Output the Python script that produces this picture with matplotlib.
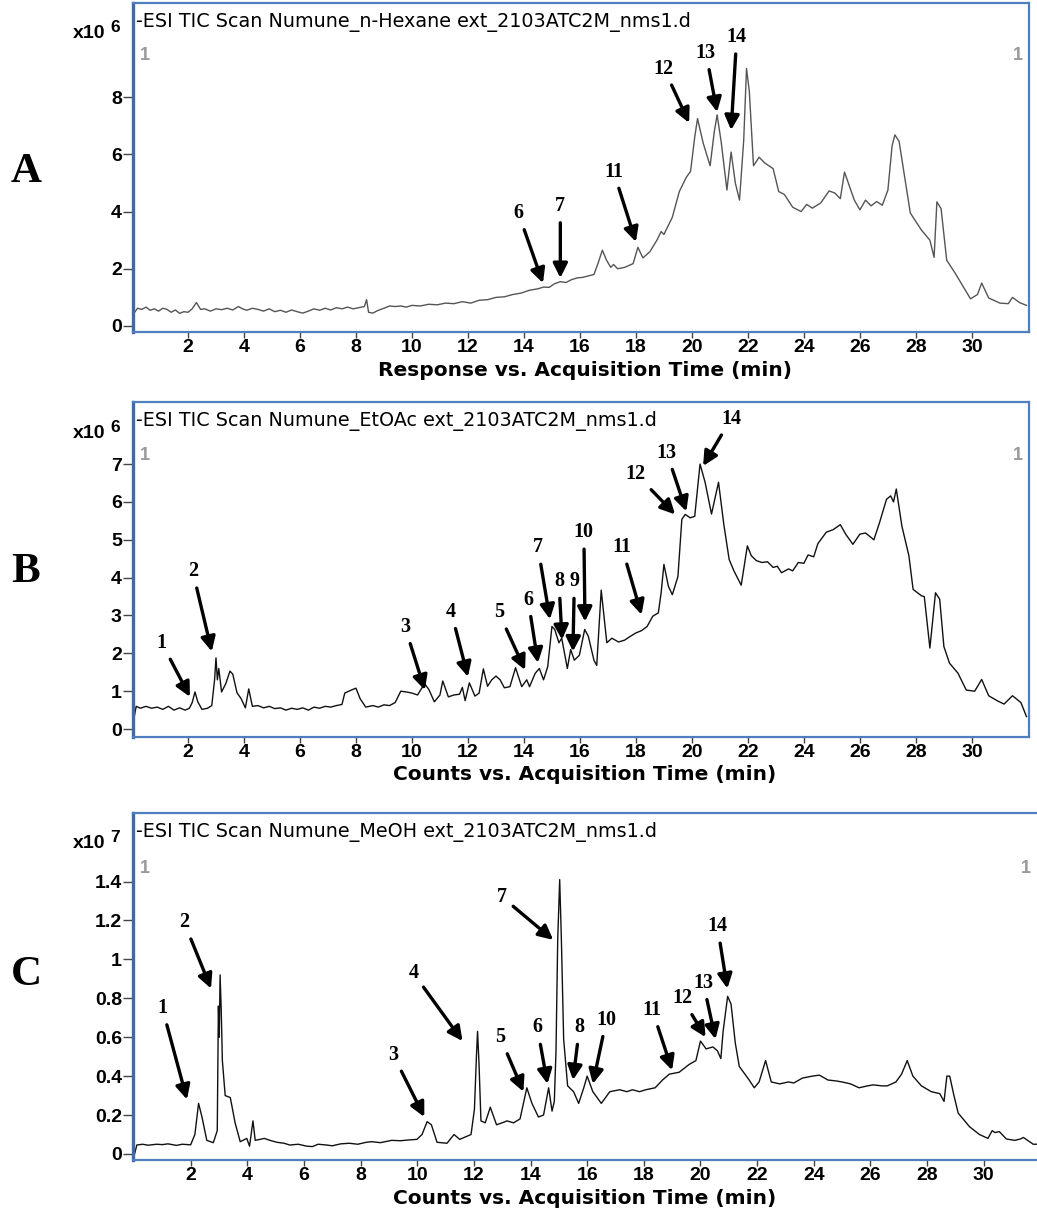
import matplotlib
matplotlib.use("Agg")
import matplotlib.pyplot as plt

# ---- data (time in min, intensity in axis units) ----
time_a = [0.05, 0.2, 0.35, 0.5, 0.65, 0.8, 0.95, 1.1, 1.25, 1.4, 1.55, 1.7, 1.85, 2.0, 2.15,
          2.3, 2.45, 2.6, 2.8, 3.0, 3.2, 3.4, 3.6, 3.8, 3.95, 4.1, 4.3, 4.5, 4.7, 4.9,
          5.1, 5.3, 5.5, 5.7, 5.9, 6.1, 6.3, 6.5, 6.7, 6.9, 7.1, 7.3, 7.5, 7.7, 7.9,
          8.1, 8.3, 8.38, 8.45, 8.6, 8.8, 9.0, 9.2, 9.4, 9.6, 9.8, 10.0, 10.3, 10.6, 10.9,
          11.2, 11.5, 11.8, 12.1, 12.4, 12.7, 13.0, 13.3, 13.6, 13.9, 14.2, 14.5, 14.7, 14.9, 15.1,
          15.3, 15.5, 15.7, 15.9, 16.1, 16.3, 16.5, 16.65, 16.8, 16.95, 17.1, 17.2, 17.35, 17.6, 17.9,
          18.07, 18.25, 18.5, 18.75, 18.9, 19.0, 19.3, 19.55, 19.8, 19.95, 20.1, 20.2, 20.4, 20.65, 20.8,
          20.9, 21.05, 21.25, 21.4, 21.55, 21.7, 21.85, 21.95, 22.05, 22.2, 22.4, 22.6, 22.9, 23.1, 23.3,
          23.6, 23.9, 24.1, 24.3, 24.6, 24.9, 25.1, 25.3, 25.45, 25.8, 26.0, 26.2, 26.4, 26.6, 26.8,
          27.0, 27.15, 27.25, 27.4, 27.6, 27.8, 28.2, 28.5, 28.65, 28.75, 28.9, 29.1, 29.4, 29.7, 29.95,
          30.2, 30.35, 30.6, 31.0, 31.3, 31.45, 31.7, 31.95]
resp_a = [0.42, 0.62, 0.58, 0.66, 0.55, 0.6, 0.52, 0.62, 0.58, 0.48, 0.56, 0.44, 0.5, 0.48, 0.6,
          0.82, 0.58, 0.6, 0.52, 0.6, 0.57, 0.62, 0.56, 0.68, 0.6, 0.55, 0.62, 0.58, 0.52, 0.6,
          0.5, 0.55, 0.48, 0.56, 0.5, 0.45, 0.52, 0.6, 0.55, 0.62, 0.56, 0.64, 0.6, 0.66, 0.6,
          0.64, 0.68, 0.92, 0.48, 0.45, 0.55, 0.62, 0.7, 0.68, 0.7, 0.66, 0.72, 0.7, 0.76, 0.74,
          0.8, 0.78, 0.85, 0.8, 0.9, 0.92, 1.0, 1.02, 1.1, 1.15, 1.25, 1.3, 1.36, 1.35, 1.48,
          1.55, 1.52, 1.62, 1.68, 1.7, 1.75, 1.8, 2.2, 2.65, 2.3, 2.05, 2.15, 2.0, 2.05, 2.18,
          2.75, 2.38, 2.6, 3.0, 3.3, 3.2, 3.8, 4.7, 5.2, 5.4, 6.6, 7.25, 6.4, 5.6, 6.8,
          7.38, 6.4, 4.75, 6.08, 5.0, 4.4, 6.5, 9.0, 8.2, 5.6, 5.9, 5.7, 5.5, 4.7, 4.6,
          4.15, 4.0, 4.25, 4.12, 4.3, 4.72, 4.65, 4.45, 5.38, 4.4, 4.06, 4.4, 4.2, 4.35, 4.22,
          4.75, 6.3, 6.68, 6.45, 5.2, 3.95, 3.35, 3.0, 2.4, 4.34, 4.1, 2.3, 1.85, 1.36, 0.95,
          1.1, 1.5, 0.98, 0.8, 0.78, 1.0, 0.82, 0.72]

time_b = [0.05, 0.15, 0.3, 0.5, 0.7, 0.9, 1.1, 1.3, 1.5, 1.7, 1.9, 2.05, 2.15, 2.25, 2.35,
          2.5, 2.7, 2.85, 2.95, 3.0, 3.05, 3.1, 3.2, 3.35, 3.5, 3.6, 3.75, 3.9, 4.05, 4.17,
          4.3, 4.5, 4.7, 4.9, 5.1, 5.3, 5.5, 5.7, 5.9, 6.1, 6.3, 6.5, 6.7, 6.9, 7.1,
          7.3, 7.5, 7.6, 7.8, 8.0, 8.15, 8.35, 8.6, 8.8, 9.0, 9.2, 9.4, 9.6, 9.8, 10.0,
          10.2, 10.45, 10.6, 10.8, 11.0, 11.1, 11.3, 11.5, 11.7, 11.8, 11.9, 12.05, 12.25, 12.4, 12.55,
          12.7, 12.85, 13.0, 13.15, 13.3, 13.5, 13.7, 13.92, 14.1, 14.2, 14.4, 14.55, 14.7, 14.85, 15.0,
          15.1, 15.25, 15.35, 15.55, 15.67, 15.8, 15.98, 16.17, 16.3, 16.5, 16.6, 16.76, 16.96, 17.14, 17.38,
          17.6, 17.8, 18.0, 18.2, 18.4, 18.6, 18.8, 18.9, 19.0, 19.16, 19.3, 19.5, 19.64, 19.76, 19.94,
          20.1, 20.29, 20.47, 20.7, 20.95, 21.14, 21.33, 21.5, 21.76, 21.98, 22.12, 22.3, 22.5, 22.7, 22.9,
          23.05, 23.2, 23.45, 23.6, 23.8, 24.0, 24.15, 24.35, 24.5, 24.8, 25.05, 25.3, 25.5, 25.75, 26.0,
          26.2, 26.5, 26.7, 26.95, 27.1, 27.2, 27.3, 27.5, 27.75, 27.9, 28.2, 28.3, 28.5, 28.7, 28.85,
          29.0, 29.2, 29.5, 29.8, 30.1, 30.35, 30.6, 30.9, 31.15, 31.45, 31.75, 31.95]
resp_b = [0.2, 0.6, 0.55, 0.6, 0.55, 0.58, 0.52, 0.6, 0.5, 0.56, 0.5, 0.55, 0.7, 0.98, 0.72,
          0.52, 0.55, 0.62, 1.3, 1.88, 1.3, 1.6, 0.98, 1.2, 1.53, 1.45, 0.96, 0.8, 0.56, 1.06,
          0.6, 0.62, 0.56, 0.6, 0.54, 0.56, 0.5, 0.55, 0.52, 0.56, 0.5, 0.58, 0.55, 0.6, 0.58,
          0.62, 0.65, 0.95, 1.02, 1.08, 0.8, 0.58, 0.62, 0.58, 0.64, 0.62, 0.7, 1.0, 0.98, 0.95,
          0.9, 1.2, 1.05, 0.72, 0.9, 1.27, 0.85, 0.9, 0.92, 1.1, 0.75, 1.22, 0.87, 0.95, 1.59,
          1.13, 1.3, 1.4, 1.3, 1.09, 1.12, 1.62, 1.12, 1.3, 1.12, 1.47, 1.6, 1.3, 1.65, 2.71,
          2.63, 2.28, 2.4, 1.6, 2.1, 1.82, 1.95, 2.63, 2.45, 1.82, 1.68, 3.67, 2.28, 2.4, 2.3,
          2.35, 2.45, 2.54, 2.6, 2.71, 2.98, 3.07, 3.6, 4.35, 3.77, 3.55, 4.03, 5.54, 5.67, 5.58,
          5.62, 7.0, 6.52, 5.68, 6.52, 5.4, 4.48, 4.18, 3.8, 4.84, 4.58, 4.45, 4.4, 4.42, 4.27,
          4.3, 4.13, 4.23, 4.18, 4.4, 4.38, 4.6, 4.55, 4.9, 5.2, 5.27, 5.4, 5.14, 4.88, 5.15,
          5.18, 5.0, 5.45, 6.07, 6.16, 6.0, 6.34, 5.36, 4.58, 3.69, 3.52, 3.5, 2.14, 3.6, 3.43,
          2.18, 1.74, 1.48, 1.03, 1.0, 1.31, 0.88, 0.75, 0.66, 0.88, 0.7, 0.33]

time_c = [0.02, 0.1, 0.3, 0.5, 0.8, 1.0, 1.2, 1.5, 1.7, 2.0,
          2.15, 2.28, 2.4, 2.57, 2.8, 2.94, 2.98, 3.01, 3.04, 3.08,
          3.12, 3.22, 3.4, 3.57, 3.75, 3.98, 4.08, 4.2, 4.28, 4.45,
          4.6, 4.8, 5.05, 5.3, 5.5, 5.8, 6.1, 6.3, 6.5, 6.8,
          7.0, 7.3, 7.6, 7.9, 8.2, 8.4, 8.7, 9.1, 9.4, 9.7,
          9.99, 10.17, 10.35, 10.5, 10.7, 11.05, 11.3, 11.5, 11.9, 12.02,
          12.09, 12.13, 12.18, 12.25, 12.4, 12.58, 12.8, 13.0, 13.17, 13.4,
          13.63, 13.87, 14.05, 14.28, 14.46, 14.64, 14.76, 14.84, 14.9, 14.96,
          15.03, 15.09, 15.17, 15.31, 15.52, 15.7, 15.88, 16.0, 16.2, 16.3,
          16.5, 16.8, 17.15, 17.4, 17.6, 17.85, 18.07, 18.4, 18.66, 18.9,
          19.25, 19.6, 19.84, 19.95, 20.0, 20.2, 20.44, 20.6, 20.72, 20.8,
          20.96, 21.08, 21.23, 21.37, 21.72, 21.9, 22.07, 22.3, 22.5, 22.8,
          23.1, 23.3, 23.6, 23.95, 24.2, 24.5, 24.8, 25.0, 25.3, 25.6,
          25.9, 26.1, 26.4, 26.6, 26.9, 27.1, 27.3, 27.5, 27.8, 28.15,
          28.45, 28.6, 28.7, 28.8, 28.95, 29.1, 29.5, 29.85, 30.15, 30.3,
          30.4, 30.55, 30.8, 31.1, 31.3, 31.4, 31.75, 32.1]
resp_c = [0.0, 0.046, 0.05, 0.045, 0.05, 0.048, 0.052, 0.044, 0.05, 0.047,
          0.1, 0.26, 0.19, 0.07, 0.058, 0.12, 0.76, 0.6, 0.92, 0.74,
          0.48, 0.3, 0.29, 0.16, 0.063, 0.08, 0.04, 0.17, 0.07, 0.075,
          0.08, 0.07, 0.06, 0.055, 0.046, 0.05, 0.04, 0.038, 0.05, 0.046,
          0.042, 0.052, 0.055, 0.05, 0.06, 0.063, 0.058, 0.07, 0.068, 0.072,
          0.075, 0.1, 0.166, 0.15, 0.06, 0.055, 0.1, 0.075, 0.1, 0.23,
          0.5, 0.63, 0.47, 0.17, 0.16, 0.24, 0.15, 0.16, 0.17, 0.16,
          0.18, 0.34, 0.26, 0.19, 0.2, 0.34, 0.22, 0.27, 0.53, 1.1,
          1.41, 1.1, 0.59, 0.35, 0.32, 0.26, 0.34, 0.4, 0.32, 0.3,
          0.26, 0.32, 0.33, 0.32, 0.33, 0.32, 0.33, 0.34, 0.38, 0.41,
          0.42, 0.46, 0.48, 0.55, 0.58, 0.54, 0.55, 0.53, 0.49, 0.63,
          0.81, 0.77, 0.57, 0.45, 0.38, 0.34, 0.37, 0.48, 0.37, 0.36,
          0.37, 0.365, 0.39, 0.4, 0.405, 0.38, 0.375, 0.37, 0.36, 0.34,
          0.35, 0.355, 0.35, 0.35, 0.37, 0.41, 0.48, 0.4, 0.35, 0.32,
          0.31, 0.27, 0.4, 0.4, 0.3, 0.21, 0.14, 0.1, 0.08, 0.12,
          0.11, 0.115, 0.077, 0.07, 0.077, 0.085, 0.05, 0.05]

# peak labels: (label, arrow tip time, tip value, label time, label value)
peaks_a = [("6", 14.68, 1.5, 13.8, 3.95), ("7", 15.3, 1.68, 15.3, 4.2),
           ("11", 18.0, 2.94, 17.2, 5.4), ("12", 19.9, 7.1, 19.0, 9.0),
           ("13", 20.9, 7.48, 20.5, 9.55), ("14", 21.4, 6.85, 21.6, 10.1)]
peaks_b = [("1", 2.07, 0.85, 1.06, 2.28), ("2", 2.85, 2.05, 2.17, 4.17),
           ("3", 10.46, 1.03, 9.75, 2.7), ("4", 12.0, 1.38, 11.4, 3.1),
           ("5", 14.04, 1.56, 13.1, 3.08), ("6", 14.5, 1.75, 14.15, 3.42),
           ("7", 14.93, 2.9, 14.5, 4.8), ("8", 15.36, 2.36, 15.25, 3.9),
           ("9", 15.75, 2.05, 15.8, 3.9), ("10", 16.18, 2.84, 16.14, 5.2),
           ("11", 18.2, 3.02, 17.5, 4.8), ("12", 19.4, 5.67, 18.0, 6.74),
           ("13", 19.8, 5.75, 19.1, 7.3), ("14", 20.4, 6.95, 21.4, 8.2)]
peaks_c = [("1", 1.87, 0.28, 1.0, 0.75), ("2", 2.72, 0.85, 1.77, 1.19),
           ("3", 10.25, 0.19, 9.15, 0.51), ("4", 11.6, 0.58, 9.86, 0.93),
           ("5", 13.75, 0.32, 12.93, 0.6), ("6", 14.6, 0.36, 14.24, 0.65),
           ("7", 14.8, 1.1, 13.0, 1.32), ("8", 15.5, 0.38, 15.73, 0.65),
           ("10", 16.2, 0.36, 16.68, 0.69), ("11", 19.0, 0.43, 18.3, 0.74),
           ("12", 20.18, 0.6, 19.35, 0.8), ("13", 20.53, 0.59, 20.1, 0.88),
           ("14", 20.95, 0.85, 20.6, 1.17)]

titles = ["-ESI TIC Scan Numune_n-Hexane ext_2103ATC2M_nms1.d",
          "-ESI TIC Scan Numune_EtOAc ext_2103ATC2M_nms1.d",
          "-ESI TIC Scan Numune_MeOH ext_2103ATC2M_nms1.d"]
xlabels = ["Response vs. Acquisition Time (min)",
           "Counts vs. Acquisition Time (min)",
           "Counts vs. Acquisition Time (min)"]
exponents = ["6", "6", "7"]
letters = ["A", "B", "C"]
yticks = [[0, 2, 4, 6, 8], [0, 1, 2, 3, 4, 5, 6, 7], [0, 0.2, 0.4, 0.6, 0.8, 1.0, 1.2, 1.4]]
yticklabels = [["0", "2", "4", "6", "8"], ["0", "1", "2", "3", "4", "5", "6", "7"],
               ["0", "0.2", "0.4", "0.6", "0.8", "1", "1.2", "1.4"]]
xticks = list(range(2, 32, 2))

W, H = 1037, 1214
fig = plt.figure(figsize=(W / 100, H / 100), dpi=100)

# pixel boxes (left, top, right, bottom) and axis limits
boxes = [(133, 3, 1029, 332), (133, 402, 1029, 737), (133, 813, 1046, 1160)]
xlims = [(0.036, 32.04), (0.036, 32.04), (-0.035, 32.2)]
ylims = [(-0.21, 11.29), (-0.21, 8.64), (-0.031, 1.752)]
line_colors = ["#555555", "#111111", "#111111"]
traces = [(time_a, resp_a), (time_b, resp_b), (time_c, resp_c)]
peaks = [peaks_a, peaks_b, peaks_c]
xlabel_off = [39, 37, 38]
spine_col = "#4f7fbf"

for i in range(3):
    l, t, r, b = boxes[i]
    ax = fig.add_axes([l / W, 1 - b / H, (r - l) / W, (b - t) / H])
    ax.plot(traces[i][0], traces[i][1], color=line_colors[i], lw=1.0)
    ax.set_xlim(*xlims[i])
    ax.set_ylim(*ylims[i])
    for s in ax.spines.values():
        s.set_color(spine_col)
        s.set_linewidth(1.6)
    ax.spines["left"].set_linewidth(2.4)
    ax.spines["left"].set_color("#3d6aa8")
    ax.set_xticks(xticks)
    ax.set_yticks(yticks[i])
    ax.set_yticklabels(yticklabels[i])
    ax.tick_params(axis="both", direction="out", width=1, color="#444444", labelsize=14)
    ax.tick_params(axis="y", length=7, pad=1)
    ax.tick_params(axis="x", length=4, pad=1)
    for lab in ax.get_xticklabels() + ax.get_yticklabels():
        lab.set_fontweight("bold")
        lab.set_fontfamily("Liberation Sans")

    # grey range markers
    ax.text(0.008, 0.84, "1", transform=ax.transAxes, color="#999999", fontsize=13,
            fontweight="bold", family="Liberation Sans", ha="left", va="center")
    ax.text(0.993 if i < 2 else 0.983, 0.84, "1", transform=ax.transAxes, color="#999999",
            fontsize=13, fontweight="bold", family="Liberation Sans", ha="right", va="center")

    for lab, tx, ty, lx, ly in peaks[i]:
        ax.annotate(lab, xy=(tx, ty), xytext=(lx, ly), ha="center", va="center",
                    fontsize=14.5, fontweight="bold", family="Liberation Serif",
                    arrowprops=dict(arrowstyle="-|>,head_length=0.6,head_width=0.3",
                                    color="black", lw=2.4, shrinkA=3, shrinkB=0))

    fig.text(136 / W, 1 - (t + 19) / H, titles[i], fontsize=13.8, family="DejaVu Sans",
             ha="left", va="center")
    fig.text(73 / W, 1 - (t + 31) / H, "x10", fontsize=14, fontweight="bold",
             family="Liberation Sans", ha="left", va="center")
    fig.text(110 / W, 1 - (t + 25) / H, exponents[i], fontsize=12.5, fontweight="bold",
             family="Liberation Sans", ha="left", va="center")
    fig.text(585 / W, 1 - (b + xlabel_off[i]) / H, xlabels[i], fontsize=14.5, fontweight="bold",
             family="DejaVu Sans", ha="center", va="center")

letter_y = [172, 572, 975]
for lt, yy in zip(letters, letter_y):
    fig.text(26 / W, 1 - yy / H, lt, fontsize=31, fontweight="bold",
             family="Liberation Serif", ha="center", va="center")

fig.savefig("out.png", dpi=100)
